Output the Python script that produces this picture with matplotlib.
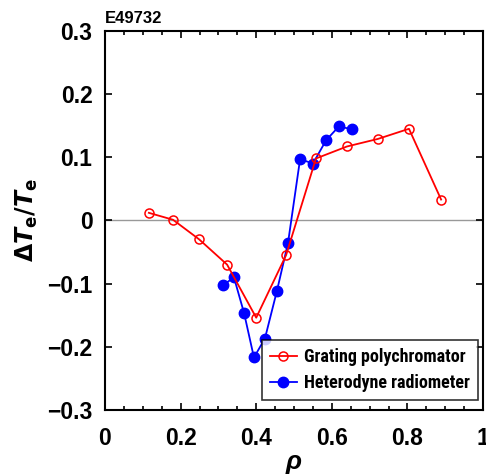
import matplotlib
matplotlib.use("Agg")
import matplotlib.pyplot as plt
from matplotlib.ticker import MultipleLocator

plt.rcParams['font.family'] = ['Liberation Sans', 'DejaVu Sans']

rho_gp = [0.116, 0.180, 0.249, 0.323, 0.400, 0.479, 0.558, 0.640, 0.722, 0.804, 0.889]
dte_gp = [0.012, 0.001, -0.030, -0.070, -0.154, -0.055, 0.098, 0.117, 0.129, 0.145, 0.033]

rho_hr = [0.312, 0.341, 0.368, 0.394, 0.423, 0.455, 0.484, 0.516, 0.550, 0.585, 0.619, 0.653]
dte_hr = [-0.103, -0.090, -0.147, -0.217, -0.187, -0.111, -0.036, 0.097, 0.090, 0.127, 0.149, 0.144]

xticks = [0, 0.2, 0.4, 0.6, 0.8, 1]
xticklabels = ['0', '0.2', '0.4', '0.6', '0.8', '1']
yticks = [-0.3, -0.2, -0.1, 0, 0.1, 0.2, 0.3]
yticklabels = ['\u22120.3', '\u22120.2', '\u22120.1', '0', '0.1', '0.2', '0.3']

fig = plt.figure(figsize=(4.86, 4.75), dpi=100)
ax = fig.add_axes([0.216, 0.137, 0.778, 0.798])

ax.axhline(0, color='#999999', lw=1.0, zorder=1)
ax.plot(rho_gp, dte_gp, color='red', lw=1.3, marker='o', ms=6.5, mfc='none',
        mec='red', mew=1.1, label='Grating polychromator', zorder=3)
ax.plot(rho_hr, dte_hr, color='blue', lw=1.3, marker='o', ms=7.5, mfc='blue',
        mec='blue', label='Heterodyne radiometer', zorder=2)

ax.set_xlim(0, 1)
ax.set_ylim(-0.3, 0.3)
ax.set_xticks(xticks)
ax.set_xticklabels(xticklabels)
ax.set_yticks(yticks)
ax.set_yticklabels(yticklabels)
ax.xaxis.set_minor_locator(MultipleLocator(0.05))
ax.tick_params(which='both', direction='in', top=True, right=True, width=1.2)
ax.tick_params(which='major', length=5, labelsize=16.5)
ax.tick_params(axis='y', which='major', pad=9)
ax.tick_params(axis='x', which='major', pad=12)
ax.tick_params(which='minor', length=3)
for lab in ax.get_xticklabels() + ax.get_yticklabels():
    lab.set_fontweight('bold')
for s in ax.spines.values():
    s.set_linewidth(1.5)

ax.set_xlabel('\u03c1', fontsize=19, fontweight='bold', fontstyle='italic', labelpad=0)
ax.set_ylabel(r'$\mathbf{\Delta}\boldsymbol{T}_{\mathbf{e}}\mathbf{/}\boldsymbol{T}_{\mathbf{e}}$',
              fontsize=17, labelpad=5)

ax.text(0.0, 1.012, 'E49732', transform=ax.transAxes, fontsize=12,
        fontweight='bold', ha='left', va='bottom')

leg = ax.legend(loc='lower right', frameon=True, fancybox=False,
                prop={'family': 'Roboto Condensed', 'weight': 'bold', 'size': 13},
                edgecolor='black', handlelength=1.5, borderpad=0.45,
                labelspacing=0.45, handletextpad=0.4, borderaxespad=0.0,
                bbox_to_anchor=(0.987, 0.026))
leg.get_frame().set_linewidth(1.2)

fig.savefig('out.png', dpi=100)
